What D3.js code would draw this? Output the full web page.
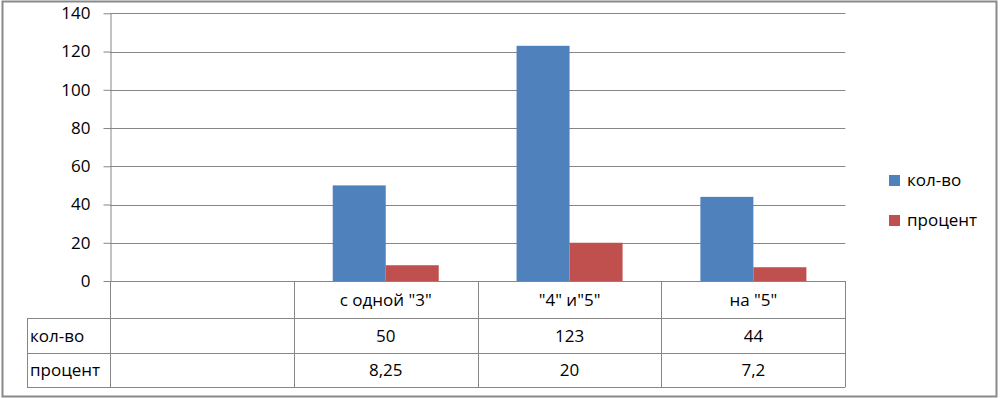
<!DOCTYPE html>
<html>
<head>
<meta charset="utf-8">
<script src="https://cdn.jsdelivr.net/npm/d3@7"></script>
<style>
  body { margin: 0; background: #fff; }
  text { font-family: "Open Sans", sans-serif; fill: #000; }
</style>
</head>
<body>
<script>
const w = 1001;
const h = 398;

// chart data
const categories = ["", "с одной \"3\"", "\"4\" и\"5\"", "на \"5\""];
const seriesNames = ["кол-во", "процент"];
const kolvo = [null, 50, 123, 44];
const procent = [null, 8.25, 20, 7.2];
const kolvoLabels = ["", "50", "123", "44"];
const procentLabels = ["", "8,25", "20", "7,2"];
const yTicks = [0, 20, 40, 60, 80, 100, 120, 140];

const colors = { "кол-во": "#4F81BD", "процент": "#C0504D" };
const lineColor = "#868686";
const fontSize = 17;

const svg = d3
  .select("body")
  .append("svg")
  .attr("width", w)
  .attr("height", h);

// outer chart border
svg
  .append("rect")
  .attr("x", 2.5)
  .attr("y", 1.5)
  .attr("width", 994)
  .attr("height", 395)
  .attr("fill", "none")
  .attr("stroke", "#898989")
  .attr("stroke-width", 2);

// scales
const x = d3.scaleBand().domain(categories).range([110, 845.3]).padding(0);
const xs = d3
  .scaleBand()
  .domain(seriesNames)
  .range([0, x.bandwidth()])
  .paddingInner(0)
  .paddingOuter(0.734);
const y = d3.scaleLinear().domain([0, 140]).range([281, 13.3]);

// gridlines
svg
  .append("g")
  .selectAll("line")
  .data(yTicks.slice(1))
  .enter()
  .append("line")
  .attr("x1", 110)
  .attr("x2", 845.3)
  .attr("y1", (d) => Math.round(y(d)) + 0.5)
  .attr("y2", (d) => Math.round(y(d)) + 0.5)
  .attr("stroke", lineColor);

// y axis
const yAxis = svg
  .append("g")
  .attr("transform", "translate(110.5,0)")
  .call(d3.axisLeft(y).tickValues(yTicks).tickSize(7).tickSizeOuter(0).tickPadding(13));
yAxis.select(".domain").attr("stroke", lineColor);
yAxis.selectAll(".tick line").attr("stroke", lineColor);
yAxis
  .selectAll(".tick text")
  .style("font-family", '"Open Sans", sans-serif')
  .style("font-size", fontSize + "px")
  .attr("fill", "#000");

// bars
const rows = categories.map((c, i) => ({ cat: c, values: [kolvo[i], procent[i]] }));
const groups = svg
  .append("g")
  .selectAll("g")
  .data(rows)
  .enter()
  .append("g")
  .attr("transform", (d) => "translate(" + x(d.cat) + ",0)");

groups
  .selectAll("rect")
  .data((d) => seriesNames.map((s, j) => ({ s: s, v: d.values[j] })).filter((e) => e.v != null))
  .enter()
  .append("rect")
  .attr("x", (d) => xs(d.s))
  .attr("width", xs.bandwidth())
  .attr("y", (d) => y(d.v))
  .attr("height", (d) => y(0) - y(d.v))
  .attr("fill", (d) => colors[d.s]);

// data table
const tableTop = 281;
const rowH = [37.3, 35, 33.7];
const rowY = [tableTop, tableTop + rowH[0], tableTop + rowH[0] + rowH[1], tableTop + rowH[0] + rowH[1] + rowH[2]];
const labelLeft = 27;
const right = 845.3;

const table = svg.append("g").attr("stroke", lineColor).attr("fill", "none");
// horizontal lines
table.append("line").attr("x1", 110).attr("x2", right).attr("y1", rowY[0] + 0.5).attr("y2", rowY[0] + 0.5);
[1, 2, 3].forEach(function (i) {
  table
    .append("line")
    .attr("x1", labelLeft)
    .attr("x2", right)
    .attr("y1", Math.round(rowY[i]) + 0.5)
    .attr("y2", Math.round(rowY[i]) + 0.5);
});
// vertical lines
table.append("line").attr("x1", labelLeft + 0.5).attr("x2", labelLeft + 0.5).attr("y1", rowY[1]).attr("y2", rowY[3]);
categories.forEach(function (c) {
  table
    .append("line")
    .attr("x1", Math.round(x(c)) + 0.5)
    .attr("x2", Math.round(x(c)) + 0.5)
    .attr("y1", rowY[0])
    .attr("y2", rowY[3]);
});
table.append("line").attr("x1", Math.round(right) + 0.5).attr("x2", Math.round(right) + 0.5).attr("y1", rowY[0]).attr("y2", rowY[3]);

// table texts
const tableRows = [categories, kolvoLabels, procentLabels];
tableRows.forEach(function (r, i) {
  svg
    .append("g")
    .selectAll("text")
    .data(r)
    .enter()
    .append("text")
    .attr("x", (d, j) => x(categories[j]) + x.bandwidth() / 2)
    .attr("y", (rowY[i] + rowY[i + 1]) / 2)
    .attr("dy", "0.35em")
    .attr("text-anchor", "middle")
    .style("font-size", fontSize + "px")
    .text((d) => d);
});
seriesNames.forEach(function (s, i) {
  svg
    .append("text")
    .attr("x", labelLeft + 3)
    .attr("y", (rowY[i + 1] + rowY[i + 2]) / 2)
    .attr("dy", "0.35em")
    .style("font-size", fontSize + "px")
    .text(s);
});

// legend
const legend = svg
  .selectAll(".legend")
  .data(seriesNames)
  .enter()
  .append("g")
  .attr("class", "legend")
  .attr("transform", (d, i) => "translate(889," + (175 + i * 40) + ")");
legend
  .append("rect")
  .attr("width", 11)
  .attr("height", 11)
  .attr("fill", (d) => colors[d]);
legend
  .append("text")
  .attr("x", 18)
  .attr("y", 5.5)
  .attr("dy", "0.35em")
  .style("font-size", fontSize + "px")
  .text((d) => d);
</script>
</body>
</html>
